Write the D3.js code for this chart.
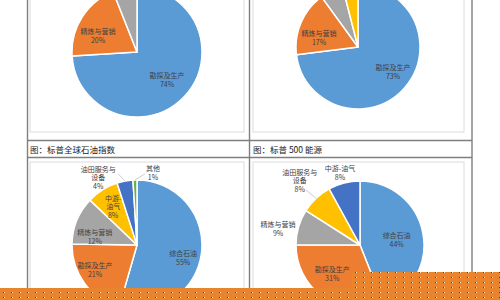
<!DOCTYPE html>
<html><head><meta charset="utf-8">
<script src="https://cdn.jsdelivr.net/npm/d3@7"></script>
<style>html,body{margin:0;padding:0;background:#fff;overflow:hidden}svg{display:block}</style>
</head><body>
<script>
// ---- data ----
const tlCategories = ["勘探及生产", "精炼与营销", "油田服务与设备"];
const tlValues = [74, 20, 6];
const trCategories = ["勘探及生产", "精炼与营销", "油田服务与设备", "中游-油气"];
const trValues = [73, 17, 6, 4];
const blCategories = ["综合石油", "勘探及生产", "精炼与营销", "中游-油气", "油田服务与设备", "其他"];
const blValues = [55, 21, 12, 8, 4, 1];
const brCategories = ["综合石油", "勘探及生产", "精炼与营销", "油田服务与设备", "中游-油气"];
const brValues = [44, 31, 9, 8, 8];
const captions = ["图：标普全球石油指数", "图：标普 500 能源"];

// ---- styles ----
const seriesColors = ["#5B9BD5","#ED7D31","#A5A5A5","#FFC000","#4472C4","#70AD47"];
const FONT = "'Noto Sans CJK SC','Noto Sans',sans-serif";

const W = 500, H = 300;
const svg = d3.select("body").append("svg").attr("width", W).attr("height", H);
svg.append("rect").attr("width", W).attr("height", H).attr("fill", "#fff");

// chart frames
const frames = [
  {x:30, y:-2, w:214, h:134},
  {x:253, y:-2, w:211, h:134},
  {x:30, y:162, w:214, h:140},
  {x:253, y:162, w:211, h:140}
];
frames.forEach(f => svg.append("rect").attr("x", f.x).attr("y", f.y).attr("width", f.w).attr("height", f.h)
  .attr("fill", "#fff").attr("stroke", "#dcdcdc").attr("stroke-width", 1));

// table lines
const tcol = "#7f7f7f";
[[27.5,0,27.5,300],[249.5,0,249.5,300],[472,0,472,300],[27,140.5,472,140.5],[27,157.5,472,157.5]].forEach(l =>
  svg.append("line").attr("x1", l[0]).attr("y1", l[1]).attr("x2", l[2]).attr("y2", l[3])
    .attr("stroke", tcol).attr("stroke-width", 1.4));

// captions
svg.append("text").attr("x", 30).attr("y", 152.5).text(captions[0])
  .attr("font-family", FONT).attr("font-size", 8.5).attr("fill", "#222");
svg.append("text").attr("x", 253).attr("y", 152.5).text(captions[1])
  .attr("font-family", FONT).attr("font-size", 8.5).attr("fill", "#222");

// ---- pies ----
const charts = [
  {cats: tlCategories, vals: tlValues, cx:137, cy:52, r:65,
   labels: [
     {i:0, lines:["勘探及生产"], a:133, d:41},
     {i:1, lines:["精炼与营销"], a:292, d:42}
   ]},
  {cats: trCategories, vals: trValues, cx:358, cy:47, r:62,
   labels: [
     {i:0, lines:["勘探及生产"], a:125.5, d:43},
     {i:1, lines:["精炼与营销"], a:283, d:40}
   ]},
  {cats: blCategories, vals: blValues, cx:137, cy:245, r:65,
   labels: [
     {i:0, lines:["综合石油"], a:106, d:48},
     {i:1, lines:["勘探及生产"], a:239, d:49},
     {i:2, lines:["精炼与营销"], a:281, d:43},
     {i:3, lines:["中游-","油气"], a:328, d:45},
     {i:4, lines:["油田服务与","设备"], a:330, d:77.5, leader:[20,-4]},
     {i:5, lines:["其他"], a:12.5, d:74, leader:[-8,1]}
   ]},
  {cats: brCategories, vals: brValues, cx:360, cy:245, r:64,
   labels: [
     {i:0, lines:["综合石油"], a:82, d:37},
     {i:1, lines:["勘探及生产"], a:224, d:40},
     {i:2, lines:["精炼与营销"], a:281, d:83.5},
     {i:3, lines:["油田服务与","设备"], a:316.8, d:88, leader:[6,9]},
     {i:4, lines:["中游-油气"], a:344.5, d:75}
   ]}
];

const rad = deg => deg * Math.PI / 180;

charts.forEach(ch => {
  const pie = d3.pie().sort(null).value(d => d).startAngle(0).endAngle(2*Math.PI);
  const arcs = pie(ch.vals);
  const arc = d3.arc().innerRadius(0).outerRadius(ch.r);
  const color = d3.scaleOrdinal().domain(ch.cats).range(seriesColors);
  const g = svg.append("g").attr("transform", `translate(${ch.cx},${ch.cy})`);
  g.selectAll("path").data(arcs).join("path")
    .attr("d", arc)
    .attr("fill", (d,i) => color(ch.cats[i]))
    .attr("stroke", "#fff").attr("stroke-width", 1.5).attr("stroke-linejoin", "round");

  ch.labels.forEach(lb => {
    const a = rad(lb.a);
    const x = lb.d * Math.sin(a), y = -lb.d * Math.cos(a);
    const lines = lb.lines.concat([ch.vals[lb.i] + "%"]);
    const lh = 8.6;
    if (lb.leader) {
      const s = arcs[lb.i];
      const m = (s.startAngle + s.endAngle) / 2;
      g.append("line")
        .attr("x1", x + lb.leader[0]).attr("y1", y + lb.leader[1])
        .attr("x2", ch.r * Math.sin(m)).attr("y2", -ch.r * Math.cos(m))
        .attr("stroke", "#bfbfbf").attr("stroke-width", 0.8);
    }
    const t = g.append("text").attr("text-anchor", "middle")
      .attr("font-family", FONT).attr("font-size", 7).attr("fill", "#404040");
    lines.forEach((s, k) => {
      t.append("tspan").attr("x", x)
        .attr("y", y + (k - (lines.length - 1) / 2) * lh + 2.5).text(s);
    });
  });
});

// ---- orange dotted overlay band ----
const defs = svg.append("defs");
const pat = defs.append("pattern").attr("id", "dots").attr("patternUnits", "userSpaceOnUse")
  .attr("width", 8).attr("height", 5);
pat.append("rect").attr("width", 8).attr("height", 5).attr("fill", "#E9842D");
pat.append("rect").attr("x", 3).attr("y", 2).attr("width", 1).attr("height", 1).attr("fill", "#5a3a1a");
pat.append("rect").attr("x", 4).attr("y", 2).attr("width", 1).attr("height", 1).attr("fill", "#fbe6c2");
svg.append("path")
  .attr("d", "M0,288 L352,288 L352,272 L500,272 L500,300 L0,300 Z")
  .attr("fill", "url(#dots)");
</script>
</body></html>
